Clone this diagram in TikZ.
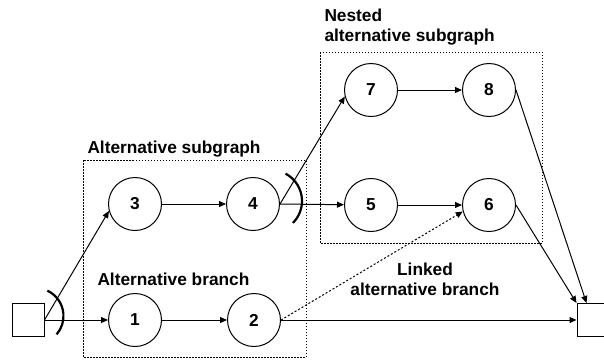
\documentclass[tikz,border=0pt]{standalone}
\usepackage{fontspec}
\setmainfont{Liberation Sans}
\usetikzlibrary{arrows.meta}
\tikzset{>={Triangle[length=7pt,width=6pt]}}

\begin{document}
\begin{tikzpicture}[x=1pt,y=-1pt,line width=1pt,
  task/.style={circle,draw,minimum size=53pt,inner sep=0pt,font=\fontsize{17.3}{20}\selectfont\bfseries},
  term/.style={draw,minimum width=32pt,minimum height=33pt,inner sep=0pt},
  group/.style={draw,dash pattern=on 1.5pt off 1.5pt},
  lbl/.style={font=\fontsize{17.3}{20}\selectfont\bfseries,inner sep=0pt,align=left},
  fork/.style={line width=2.2pt}]
\useasboundingbox (0,0) rectangle (604,360);
\draw[group] (83,160) rectangle (306,357);
\draw[group] (320,52) rectangle (542,243);
\node[term] (src) at (28,320) {};
\node[term] (snk) at (593,320) {};
\node[task] (n1) at (135,320) {1};
\node[task] (n2) at (254,320) {2};
\node[task] (n3) at (135,204) {3};
\node[task] (n4) at (253,204) {4};
\node[task] (n5) at (371,205) {5};
\node[task] (n6) at (489,205) {6};
\node[task] (n7) at (371,90) {7};
\node[task] (n8) at (489,90) {8};
\node[lbl,anchor=base west] (altsub) at (87,153) {Alternative subgraph};
\node[lbl,anchor=base west] (nestsub) at (324,41.5) {Nested\\alternative subgraph};
\node[lbl,anchor=base west] (altbr) at (97,285) {Alternative branch};
\node[lbl,anchor=base,align=center] (linkbr) at (425,295) {Linked\\alternative branch};
\draw[->] (src.east) -- (n1);
\draw[->] (src.east) -- (n3.195);
\draw[->] (n1) -- (n2);
\draw[->] (n3) -- (n4);
\draw[->] (n4.east) -- (n5);
\draw[->] (n4.east) -- (n7.194);
\draw[->] (n7) -- (n8);
\draw[->] (n5) -- (n6);
\draw[->] (n2.east) -- (snk);
\draw[->,dash pattern=on 2pt off 2pt] (n2.east) -- (n6.194);
\draw[->] (n8.east) -- ([xshift=10pt]snk.north west);
\draw[->] (n6.east) -- (snk.north west);
\draw[fork] ([shift={(-9,-4)}]src.east) ++(-65:28) arc (-65:41:28);
\draw[fork] ([shift={(-9,-3)}]n4.east) ++(-62:31) arc (-62:45:31);
\end{tikzpicture}
\end{document}
